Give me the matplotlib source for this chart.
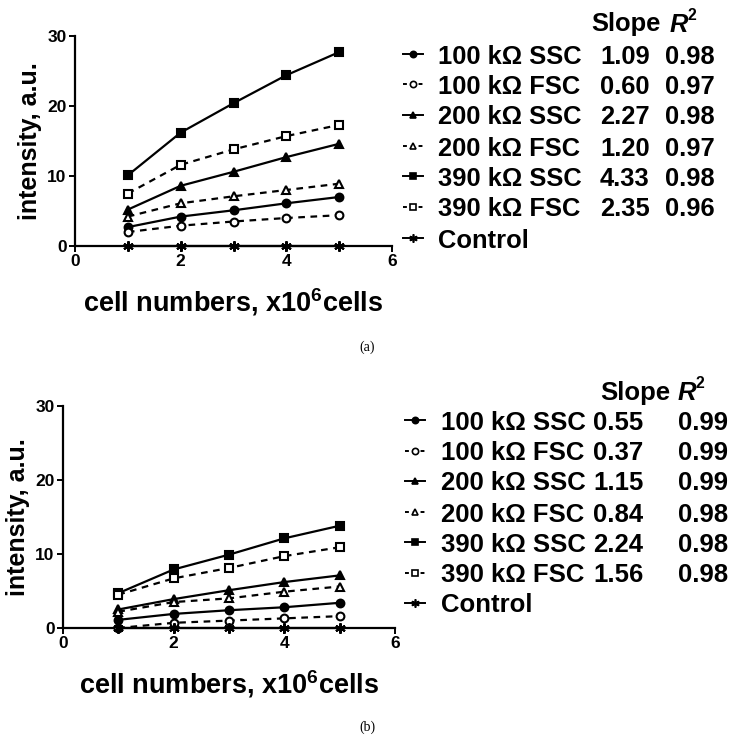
import matplotlib
matplotlib.use("Agg")
import matplotlib.pyplot as plt
from matplotlib.lines import Line2D

plt.rcParams['font.family'] = ['Liberation Sans', 'DejaVu Sans']
plt.rcParams['font.weight'] = 'bold'
plt.rcParams['mathtext.fontset'] = 'custom'
plt.rcParams['mathtext.rm'] = 'Liberation Sans:bold'
plt.rcParams['mathtext.bf'] = 'Liberation Sans:bold'
plt.rcParams['mathtext.it'] = 'Liberation Sans:bold:italic'

# ---------------- data ----------------
cells = [1, 2, 3, 4, 5]
series_labels = ["100 kΩ SSC", "100 kΩ FSC", "200 kΩ SSC", "200 kΩ FSC",
                 "390 kΩ SSC", "390 kΩ FSC", "Control"]

a_100_ssc = [2.7, 4.2, 5.1, 6.1, 7.0]
a_100_fsc = [2.0, 2.9, 3.5, 4.0, 4.4]
a_200_ssc = [5.2, 8.6, 10.6, 12.7, 14.6]
a_200_fsc = [4.2, 6.1, 7.1, 8.0, 8.9]
a_390_ssc = [10.1, 16.2, 20.4, 24.4, 27.7]
a_390_fsc = [7.5, 11.6, 13.8, 15.7, 17.3]
a_control = [0, 0, 0, 0, 0]
a_slope = ["1.09", "0.60", "2.27", "1.20", "4.33", "2.35"]
a_r2 = ["0.98", "0.97", "0.98", "0.97", "0.98", "0.96"]

b_100_ssc = [1.1, 1.9, 2.4, 2.8, 3.4]
b_100_fsc = [0.0, 0.7, 1.0, 1.3, 1.6]
b_200_ssc = [2.5, 3.9, 5.1, 6.2, 7.1]
b_200_fsc = [2.2, 3.5, 4.0, 4.9, 5.6]
b_390_ssc = [4.7, 7.9, 9.9, 12.1, 13.8]
b_390_fsc = [4.5, 6.7, 8.1, 9.7, 10.9]
b_control = [0, 0, 0, 0, 0]
b_slope = ["0.55", "0.37", "1.15", "0.84", "2.24", "1.56"]
b_r2 = ["0.99", "0.99", "0.99", "0.98", "0.98", "0.98"]

x_ticks = [0, 2, 4, 6]
y_ticks = [0, 10, 20, 30]

# ---------------- styles ----------------
styles = [
    dict(marker='o', mfc='black', ls='-'),
    dict(marker='o', mfc='white', ls='--'),
    dict(marker='^', mfc='black', ls='-'),
    dict(marker='^', mfc='white', ls='--'),
    dict(marker='s', mfc='black', ls='-'),
    dict(marker='s', mfc='white', ls='--'),
    dict(marker=(6, 2, 0), mfc='black', ls='-'),
]

W, H = 735, 747
fig = plt.figure(figsize=(W / 100, H / 100), dpi=100)


def fx(px):
    return px / W


def fy(py):
    return 1 - py / H


def panel(rect, data, slopes, r2s, leg):
    ax = fig.add_axes(rect)
    for i, (vals, st) in enumerate(zip(data, styles)):
        ms = 5.6 if i < 6 else 7.5
        line, = ax.plot(cells, vals, color='black', lw=1.6, ls=st['ls'],
                        marker=st['marker'], mfc=st['mfc'], mec='black',
                        ms=ms, mew=1.5, clip_on=False, zorder=3)
        if st['ls'] == '--':
            line.set_dashes((3, 2.5))
    ax.set_xlim(0, 6)
    ax.set_ylim(0, 30)
    ax.set_xticks(x_ticks)
    ax.set_yticks(y_ticks)
    for s in ['top', 'right']:
        ax.spines[s].set_visible(False)
    for s in ['left', 'bottom']:
        ax.spines[s].set_linewidth(1.6)
    ax.tick_params(direction='out', length=4, width=1.4, labelsize=12.5, pad=2)
    for t in ax.get_xticklabels() + ax.get_yticklabels():
        t.set_fontweight('bold')
    ax.set_ylabel("intensity, a.u.", fontsize=18, fontweight='bold', labelpad=4)
    ax.set_xlabel("cell numbers, x10$^{6}$cells", fontsize=19.5,
                  fontweight='bold', labelpad=12)

    # legend table
    hx0, hx1, tx, sx, rx, hsx, hrx, rows, ctrl_y, head_y, fs = leg
    for i in range(7):
        y = rows[i] if i < 6 else ctrl_y
        st = styles[i]
        ln = Line2D([fx(hx0), fx(hx1)], [fy(y), fy(y)], transform=fig.transFigure,
                    color='black', lw=1.4, ls=st['ls'])
        if st['ls'] == '--':
            ln.set_dashes((2, 2))
        fig.add_artist(ln)
        mk = Line2D([fx((hx0 + hx1) / 2)], [fy(y)], transform=fig.transFigure,
                    color='black', marker=st['marker'], mfc=st['mfc'], mec='black',
                    ms=4.5 if i < 6 else 6, mew=1.2, ls='none')
        fig.add_artist(mk)
        fig.text(fx(tx), fy(y), series_labels[i], fontsize=fs, fontweight='bold',
                 va='center_baseline', ha='left')
        if i < 6:
            fig.text(fx(sx), fy(y), slopes[i], fontsize=fs, fontweight='bold',
                     va='center_baseline', ha='left')
            fig.text(fx(rx), fy(y), r2s[i], fontsize=fs, fontweight='bold',
                     va='center_baseline', ha='left')
    fig.text(fx(hsx), fy(head_y), "Slope", fontsize=fs, fontweight='bold',
             va='center_baseline', ha='left')
    fig.text(fx(hrx), fy(head_y), "R", fontsize=fs, fontweight='bold',
             style='italic', va='center_baseline', ha='left')
    fig.text(fx(hrx + 18), fy(head_y - 8), "2", fontsize=fs * 0.62,
             fontweight='bold', va='center_baseline', ha='left')
    return ax


panel([fx(75), fy(246), fx(392 - 75), (246 - 36) / H],
      [a_100_ssc, a_100_fsc, a_200_ssc, a_200_fsc, a_390_ssc, a_390_fsc, a_control],
      a_slope, a_r2,
      (403, 423, 438, 600, 665, 591, 670,
       [54, 84, 115, 146, 176, 207], 238, 22, 18.4))

panel([fx(63), fy(628), fx(395 - 63), (628 - 405.7) / H],
      [b_100_ssc, b_100_fsc, b_200_ssc, b_200_fsc, b_390_ssc, b_390_fsc, b_control],
      b_slope, b_r2,
      (405, 425, 441, 593, 678, 600, 678,
       [420, 451, 481, 512, 542, 573], 603, 390, 18.5))

fig.text(fx(367), fy(347), "(a)", fontsize=10, fontweight='normal',
         family='Liberation Serif', ha='center', va='center')
fig.text(fx(367), fy(727), "(b)", fontsize=10, fontweight='normal',
         family='Liberation Serif', ha='center', va='center')

fig.savefig("out.png", dpi=100)
